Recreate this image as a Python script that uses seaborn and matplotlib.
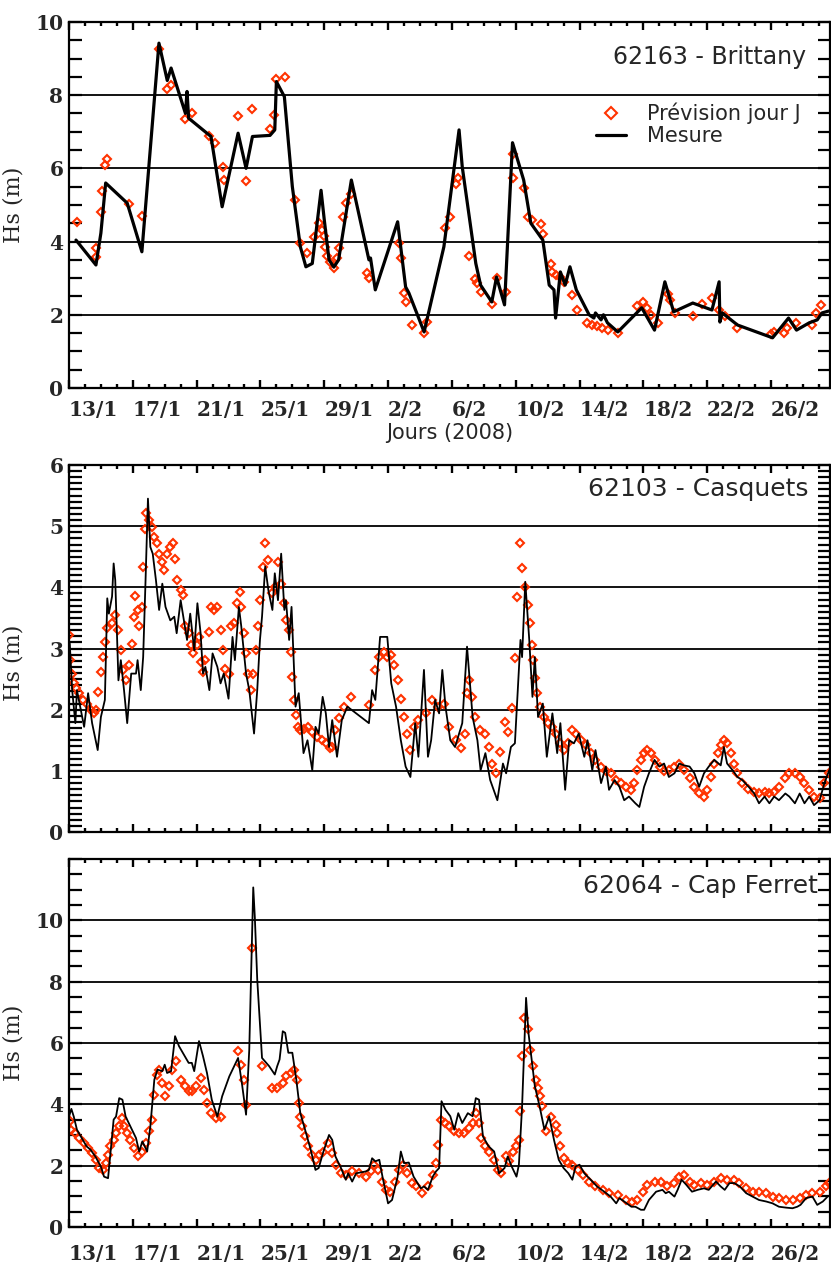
import matplotlib
matplotlib.use('Agg')
import matplotlib.pyplot as plt
from matplotlib.ticker import MultipleLocator
import seaborn as sns

# days counted from 13/1/2008 00h, Hs in metres
tick_days = [0, 4, 8, 12, 16, 20, 24, 28, 32, 36, 40, 44]
tick_labels = ['13/1', '17/1', '21/1', '25/1', '29/1', '2/2', '6/2', '10/2', '14/2', '18/2', '22/2', '26/2']

# 62163 - Brittany
brit_mes_day = [0.44, 1.69, 2.0, 2.3, 3.65, 4.57, 5.64, 6.16, 6.4, 7.3, 7.4, 7.5, 8.9, 9.6, 10.6, 11.1, 11.5, 12.6,
                12.9, 13.0, 13.5, 14.0, 14.5, 14.85, 15.25, 15.8, 16.0, 16.3, 16.6, 16.9, 17.7, 18.8, 18.9, 19.2,
                20.6, 21.1, 21.3, 22.26, 23.5, 24.45, 24.65, 25.5, 25.8, 26.5, 26.8, 27.3, 27.8, 28.5, 28.95, 29.7,
                30.1, 30.4, 30.5, 30.8, 31.1, 31.4, 31.8, 32.6, 32.9, 33.0, 33.35, 33.5, 33.75, 34.4, 35.9, 36.7,
                37.35, 37.9, 39.1, 40.3, 40.75, 40.8, 40.95, 41.9, 44.1, 45.1, 45.6, 46.4, 46.9, 47.2, 47.6]
brit_mes_hs = [4.04, 3.36, 4.23, 5.6, 5.05, 3.72, 9.42, 8.4, 8.74, 7.5, 8.1, 7.37, 6.87, 4.95, 6.96, 6.0, 6.87, 6.9,
               7.05, 8.37, 7.96, 5.5, 3.86, 3.31, 3.4, 5.4, 4.6, 3.5, 3.3, 3.5, 5.68, 3.5, 3.55, 2.68,
               4.54, 2.76, 2.6, 1.53, 3.86, 7.05, 6.04, 3.4, 2.81, 2.35, 3.03, 2.27, 6.7, 5.68, 4.5, 4.04,
               2.81, 2.68, 1.91, 3.17, 2.81, 3.31, 2.68, 2.0, 1.91, 2.05, 1.86, 2.0, 1.78, 1.53, 2.19, 1.58,
               2.9, 2.08, 2.32, 2.13, 2.9, 1.8, 2.05, 1.72, 1.37, 1.91, 1.58, 1.78, 1.86, 2.05, 2.1]
brit_prev_day = [0.5, 1.7, 1.7, 2.0, 2.05, 2.25, 2.4, 3.75, 4.55, 5.64, 6.16, 6.4, 7.27, 7.7, 8.78, 9.15, 9.65, 9.7,
                 10.6, 11.1, 11.5, 12.6, 12.85, 12.97, 13.55, 14.17, 14.5, 14.9, 15.36, 15.67, 15.86, 16.0, 16.05,
                 16.2, 16.36, 16.6, 16.8, 16.9, 17.2, 17.35, 17.66, 18.7, 18.8, 20.7, 20.8, 21.0, 21.1, 21.5,
                 22.26, 22.45, 23.6, 23.9, 24.26, 24.4, 25.08, 25.45, 25.6, 25.8, 26.5, 26.8, 27.4, 27.8, 27.8,
                 28.5, 28.8, 29.0, 29.6, 29.7, 30.2, 30.3, 30.5, 30.8, 31.0, 31.5, 31.85, 32.5, 32.8, 33.1, 33.4,
                 33.8, 34.4, 35.6, 36.0, 36.2, 36.5, 36.9, 37.55, 37.7, 38.0, 39.1, 39.7, 40.3, 40.75, 41.1, 41.9,
                 44.0, 44.2, 44.8, 45.0, 45.6, 46.6, 46.8, 47.15]
brit_prev_hs = [4.54, 3.58, 3.82, 4.8, 5.38, 6.09, 6.25, 5.03, 4.7, 9.26, 8.17, 8.28, 7.35, 7.5, 6.87, 6.69, 6.04, 5.68,
                7.43, 5.66, 7.62, 7.08, 7.46, 8.44, 8.5, 5.14, 3.96, 3.69, 4.13, 4.5, 4.32, 4.15, 3.85,
                3.6, 3.44, 3.28, 3.55, 3.82, 4.67, 5.05, 5.3, 3.14, 3.0, 3.96, 3.55, 2.6, 2.35, 1.72,
                1.5, 1.8, 4.37, 4.67, 5.57, 5.74, 3.6, 2.98, 2.87, 2.62, 2.3, 3.0, 2.62, 5.74, 6.39,
                5.46, 4.67, 4.59, 4.48, 4.2, 3.39, 3.17, 3.09, 3.03, 2.9, 2.54, 2.13, 1.78, 1.72, 1.69, 1.64,
                1.58, 1.5, 2.24, 2.35, 2.19, 2.0, 1.78, 2.57, 2.4, 2.05, 1.97, 2.3, 2.46, 2.13, 1.97, 1.64,
                1.48, 1.53, 1.5, 1.64, 1.78, 1.72, 2.05, 2.27]

# 62103 - Casquets
casq_mes_day = [0.0, 0.05, 0.2, 0.4, 0.5, 0.7, 0.95, 1.2, 1.45, 1.8, 2.0, 2.25, 2.4, 2.5, 2.7, 2.8, 2.9, 3.1, 3.25,
                3.45, 3.65, 3.9, 4.2, 4.3, 4.5, 4.65, 4.8, 4.95, 5.1, 5.25, 5.45, 5.65, 5.85, 6.05, 6.35, 6.6, 6.75,
                7.0, 7.2, 7.4, 7.6, 7.85, 8.05, 8.25, 8.4, 8.55, 8.8, 9.0, 9.3, 9.5, 9.7, 10.0, 10.25, 10.4, 10.65,
                10.8, 11.1, 11.3, 11.6, 11.8, 11.97, 12.1, 12.3, 12.5, 12.75, 12.9, 13.1, 13.3, 13.5, 13.6, 13.8,
                13.95, 14.2, 14.4, 14.7, 14.95, 15.25, 15.45, 15.65, 15.9, 16.1, 16.3, 16.5, 16.8, 17.1, 17.45,
                18.8, 19.0, 19.2, 19.5, 19.95, 20.2, 20.5, 20.8, 21.1, 21.4, 21.7, 21.9, 22.25, 22.5, 22.7, 22.95,
                23.2, 23.4, 23.6, 23.9, 24.2, 24.65, 24.95, 25.3, 25.6, 25.8, 26.1, 26.4, 26.85, 27.2, 27.4, 27.7,
                27.95, 28.3, 28.4, 28.6, 28.85, 29.05, 29.2, 29.4, 29.7, 29.95, 30.3, 30.6, 30.8, 31.1, 31.35,
                31.65, 31.95, 32.3, 32.5, 32.8, 33.0, 33.35, 33.65, 33.85, 34.2, 34.5, 34.8, 35.1, 35.5, 35.75,
                36.05, 36.35, 36.7, 37.0, 37.3, 37.6, 37.95, 38.25, 38.55, 38.9, 39.2, 39.5, 39.8, 40.1, 40.45,
                40.85, 41.05, 41.25, 41.6, 41.9, 42.2, 42.6, 42.95, 43.25, 43.6, 43.9, 44.2, 44.5, 44.9, 45.15,
                45.5, 45.8, 46.1, 46.4, 46.7, 47.05, 47.35, 47.65]
casq_mes_hs = [2.59, 3.08, 2.32, 1.78, 2.32, 2.05, 1.72, 2.27, 1.78, 1.34, 1.88, 2.16, 3.82, 3.57, 3.85, 4.39, 4.12, 2.48, 2.81,
               2.32, 1.78, 2.59, 2.59, 2.81, 2.32, 2.86, 4.12, 5.45, 4.66, 4.55, 4.12, 3.63, 4.06, 3.68, 3.46, 3.52, 3.25,
               3.79, 3.46, 3.14, 3.57, 2.97, 3.74, 3.25, 2.59, 2.7, 2.32, 2.92, 2.7, 2.43, 2.59, 2.18, 3.19, 2.81, 3.68,
               3.36, 2.59, 2.32, 1.61, 2.32, 3.14, 3.52, 4.34, 3.95, 3.63, 4.23, 3.79, 4.55, 3.63, 3.79, 3.14,
               3.68, 2.05, 2.27, 1.29, 1.5, 1.01, 1.72, 1.61, 2.21, 1.94, 1.39, 1.83, 1.23, 1.83, 2.05,
               1.78, 2.32, 2.16, 3.19, 3.19, 2.43, 2.05, 1.5, 1.07, 0.9, 1.78, 1.23, 2.65, 1.23, 1.5, 2.16,
               1.94, 2.65, 2.05, 1.5, 1.39, 1.78, 3.03, 1.88, 1.5, 1.01, 1.29, 0.85, 0.52, 1.12, 0.96, 1.39,
               1.45, 3.14, 2.86, 4.09, 3.14, 2.21, 2.86, 1.88, 2.1, 1.23, 1.94, 1.29, 1.78, 0.69, 1.5,
               1.45, 1.61, 1.23, 1.5, 1.01, 1.34, 0.8, 1.07, 0.69, 0.85, 0.74, 0.52, 0.58, 0.47, 0.41,
               0.74, 0.96, 1.18, 1.07, 1.12, 0.9, 0.96, 1.12, 1.09, 1.07, 0.96, 0.74, 0.96, 1.07, 1.18,
               1.09, 1.39, 1.12, 1.01, 0.9, 0.85, 0.74, 0.63, 0.47, 0.58, 0.47, 0.58, 0.52, 0.63, 0.58,
               0.47, 0.63, 0.47, 0.58, 0.44, 0.52, 0.8, 1.01]
casq_prev_day = [0.0, 0.05, 0.2, 0.3, 0.45, 0.6, 0.85, 1.1, 1.35, 1.55, 1.7, 1.85, 2.0, 2.15, 2.25, 2.4, 2.7, 2.9, 3.1,
                 3.25, 3.4, 3.6, 3.75, 3.95, 4.1, 4.15, 4.3, 4.4, 4.55, 4.65, 4.75, 4.85, 5.0, 5.2, 5.35, 5.5, 5.65,
                 5.8, 5.95, 6.15, 6.35, 6.5, 6.65, 6.8, 7.0, 7.15, 7.3, 7.5, 7.65, 7.8, 8.0, 8.15, 8.25, 8.4, 8.55,
                 8.75, 8.9, 9.1, 9.3, 9.5, 9.65, 9.8, 10.0, 10.15, 10.35, 10.55, 10.7, 10.8, 10.95, 11.1, 11.25,
                 11.4, 11.55, 11.7, 11.85, 12.0, 12.15, 12.3, 12.5, 12.7, 12.9, 13.1, 13.3, 13.5, 13.6, 13.8, 13.9,
                 14.0, 14.1, 14.2, 14.35, 14.5, 14.7, 15.0, 15.25, 15.55, 15.85, 16.1, 16.35, 16.5, 16.7, 16.9,
                 17.25, 17.65, 18.8, 19.2, 19.45, 19.75, 19.95, 20.2, 20.4, 20.6, 20.8, 21.0, 21.2, 21.4, 21.6,
                 21.9, 22.35, 22.75, 23.15, 23.5, 23.85, 24.25, 24.55, 24.8, 24.95, 25.1, 25.25, 25.45, 25.75,
                 26.05, 26.3, 26.5, 26.75, 27.0, 27.3, 27.5, 27.75, 27.95, 28.1, 28.3, 28.4, 28.6, 28.75, 28.9,
                 29.0, 29.1, 29.2, 29.35, 29.5, 29.8, 30.05, 30.3, 30.5, 30.75, 31.0, 31.25, 31.55, 31.8, 32.1,
                 32.4, 32.7, 33.0, 33.35, 33.65, 33.95, 34.3, 34.6, 34.9, 35.2, 35.4, 35.6, 35.85, 36.05, 36.25,
                 36.45, 36.75, 37.05, 37.3, 37.6, 37.95, 38.25, 38.55, 38.9, 39.2, 39.5, 39.8, 40.0, 40.25, 40.45,
                 40.65, 40.85, 41.05, 41.25, 41.5, 41.7, 41.9, 42.2, 42.55, 42.95, 43.25, 43.6, 43.9, 44.2, 44.5,
                 44.9, 45.15, 45.5, 45.8, 46.1, 46.4, 46.7, 47.05, 47.35, 47.65]
casq_prev_hs = [3.22, 2.81, 2.59, 2.43, 2.35, 2.27, 2.16, 2.1, 1.99, 1.94, 1.99, 2.29, 2.62, 2.86, 3.11, 3.33, 3.41, 3.55, 3.3,
                2.97, 2.65, 2.48, 2.73, 3.08, 3.52, 3.86, 3.63, 3.36, 3.68, 4.34, 4.96, 5.21, 5.1, 4.99, 4.83, 4.72, 4.55,
                4.42, 4.28, 4.55, 4.66, 4.72, 4.47, 4.12, 3.95, 3.87, 3.36, 3.25, 3.06, 2.92, 3.06, 3.19, 2.78, 2.62, 2.81,
                3.27, 3.68, 3.63, 3.68, 3.3, 2.97, 2.67, 2.59, 3.36, 3.41, 3.74, 3.93, 3.68, 3.25, 2.92, 2.59,
                2.32, 2.59, 2.97, 3.36, 3.79, 4.34, 4.72, 4.44, 3.9, 4.01, 4.42, 4.06, 3.74, 3.46, 3.3, 2.95,
                2.54, 2.16, 1.91, 1.72, 1.67, 1.69, 1.72, 1.64, 1.56, 1.5, 1.45, 1.37, 1.39, 1.67, 1.86,
                2.05, 2.21, 2.08, 2.65, 2.86, 2.95, 2.86, 2.89, 2.73, 2.48, 2.18, 1.88, 1.61, 1.34, 1.72,
                1.83, 1.94, 2.16, 2.05, 2.1, 1.72, 1.5, 1.37, 1.61, 2.27, 2.48, 2.21, 1.88, 1.67,
                1.61, 1.39, 1.12, 0.96, 1.31, 1.8, 1.64, 2.02, 2.84, 3.85, 4.72, 4.31, 4.01, 3.71, 3.41,
                3.06, 2.81, 2.51, 2.27, 2.05, 1.88, 1.78, 1.72, 1.61, 1.45, 1.34, 1.45, 1.67, 1.61, 1.5,
                1.42, 1.29, 1.18, 1.07, 0.99, 0.96, 0.85, 0.8, 0.74, 0.69, 0.8, 1.01, 1.18, 1.29, 1.34,
                1.29, 1.18, 1.07, 0.99, 1.01, 1.07, 1.12, 1.01, 0.88, 0.74, 0.63, 0.58, 0.69, 0.9, 1.12,
                1.29, 1.42, 1.5, 1.45, 1.29, 1.12, 0.96, 0.8, 0.71, 0.66, 0.63, 0.66, 0.63, 0.66, 0.74,
                0.88, 0.96, 0.96, 0.9, 0.8, 0.69, 0.58, 0.55, 0.8, 0.96]

# 62064 - Cap Ferret
capf_mes_day = [0.0, 0.15, 0.3, 0.5, 0.8, 1.1, 1.35, 1.65, 2.0, 2.2, 2.45, 2.8, 2.95, 3.15, 3.35, 3.55, 3.85, 4.2, 4.4,
                4.6, 4.9, 5.1, 5.35, 5.55, 5.85, 6.0, 6.15, 6.4, 6.65, 6.9, 7.2, 7.5, 7.7, 7.85, 8.15, 8.4, 8.65,
                8.95, 9.3, 9.6, 10.05, 10.6, 10.85, 11.1, 11.3, 11.55, 11.65, 11.8, 12.1, 12.55, 12.9, 13.05, 13.2,
                13.4, 13.55, 13.75, 14.0, 14.25, 14.5, 14.8, 15.15, 15.45, 15.65, 15.95, 16.3, 16.5, 16.7, 17.05,
                17.35, 17.5, 17.75, 18.0, 18.6, 18.8, 19.0, 19.2, 19.45, 19.65, 20.0, 20.25, 20.6, 20.8, 21.0,
                21.3, 21.6, 22.05, 22.25, 22.5, 22.8, 23.0, 23.2, 23.35, 23.6, 23.9, 24.15, 24.4, 24.65, 25.0,
                25.3, 25.5, 25.7, 25.95, 26.3, 26.65, 26.95, 27.3, 27.5, 27.75, 28.05, 28.2, 28.4, 28.55, 28.65,
                28.8, 29.0, 29.2, 29.5, 29.8, 30.1, 30.4, 30.7, 31.0, 31.3, 31.55, 31.75, 32.0, 32.3, 32.7, 33.1,
                33.55, 33.95, 34.3, 34.5, 34.8, 35.25, 35.5, 35.85, 36.05, 36.35, 36.8, 37.2, 37.4, 37.6, 37.95,
                38.15, 38.4, 38.7, 39.05, 39.4, 39.8, 40.1, 40.55, 40.85, 41.1, 41.4, 41.7, 42.05, 42.45, 42.85,
                43.25, 43.7, 44.1, 44.5, 44.95, 45.35, 45.65, 45.85, 46.2, 46.6, 46.9, 47.25, 47.55]
capf_mes_hs = [3.6, 3.85, 3.6, 3.17, 2.9, 2.63, 2.52, 2.3, 1.97, 1.64, 1.59, 3.5, 3.6, 4.2, 4.15, 3.6, 3.28, 2.9, 2.46,
               2.79, 2.46, 3.28, 4.8, 5.13, 5.08, 5.29, 5.02, 5.08, 6.22, 5.89, 5.62, 5.35, 5.35, 5.08, 6.06, 5.57, 5.02,
               4.15, 3.6, 4.26, 4.91, 5.51, 4.64, 3.66, 5.78, 11.07, 10.09, 8.07, 5.51, 5.24, 4.97, 5.24, 5.46,
               6.38, 6.33, 5.68, 5.68, 4.8, 3.71, 3.17, 2.52, 1.86, 1.92, 2.46, 3.0, 2.84, 2.3, 1.92,
               1.54, 1.75, 1.48, 1.75, 1.81, 1.86, 2.24, 2.14, 2.19, 1.64, 0.77, 0.88, 1.64, 2.46, 2.08,
               2.1, 1.64, 1.26, 1.32, 1.21, 1.64, 1.81, 1.92, 4.1, 3.82, 3.61, 3.17, 3.71, 3.39, 3.71,
               3.61, 4.2, 4.15, 2.95, 2.63, 2.46, 1.75, 1.92, 2.3, 1.97, 1.64, 2.03, 3.93, 6.0, 7.47,
               6.33, 5.46, 4.59, 3.93, 3.17, 3.6, 2.84, 2.19, 1.92, 1.75, 1.54, 1.97, 2.03, 1.75, 1.54, 1.32,
               1.15, 0.99, 0.77, 0.94, 0.83, 0.66, 0.66, 0.56, 0.56, 0.88, 1.15, 1.21, 1.1, 1.15, 0.99,
               1.21, 1.54, 1.37, 1.15, 1.21, 1.26, 1.21, 1.48, 1.32, 1.21, 1.43, 1.43, 1.32, 1.1, 0.99,
               0.88, 0.83, 0.77, 0.66, 0.63, 0.61, 0.66, 0.72, 0.94, 0.99, 0.72, 0.83, 0.99]
capf_prev_day = [0.05, 0.15, 0.4, 0.65, 0.95, 1.2, 1.45, 1.7, 1.9, 2.15, 2.3, 2.45, 2.6, 2.8, 2.95, 3.15, 3.3, 3.45, 3.65,
                 3.85, 4.1, 4.35, 4.55, 4.8, 5.0, 5.2, 5.35, 5.5, 5.65, 5.85, 6.05, 6.25, 6.45, 6.7, 7.0, 7.25, 7.5,
                 7.7, 7.95, 8.25, 8.45, 8.65, 8.9, 9.2, 9.5, 10.6, 10.8, 10.95, 11.1, 11.5, 12.1, 12.75, 13.05,
                 13.4, 13.6, 13.9, 14.1, 14.3, 14.4, 14.5, 14.6, 14.8, 15.0, 15.25, 15.5, 15.7, 15.95, 16.25, 16.5,
                 16.75, 17.05, 17.35, 17.75, 18.2, 18.6, 18.9, 19.1, 19.35, 19.6, 19.85, 20.15, 20.45, 20.7, 20.95,
                 21.2, 21.5, 21.75, 22.15, 22.5, 22.8, 23.0, 23.1, 23.3, 23.55, 23.8, 24.15, 24.45, 24.75, 25.05,
                 25.3, 25.5, 25.7, 25.8, 26.05, 26.35, 26.65, 26.9, 27.1, 27.4, 27.6, 27.8, 28.0, 28.2, 28.3, 28.4,
                 28.55, 28.75, 28.9, 29.1, 29.25, 29.4, 29.5, 29.65, 29.9, 30.2, 30.5, 30.6, 30.75, 31.0, 31.25,
                 31.55, 31.9, 32.2, 32.6, 33.0, 33.45, 33.85, 34.4, 34.9, 35.3, 35.6, 35.95, 36.25, 36.7, 37.1,
                 37.5, 37.95, 38.25, 38.55, 38.9, 39.2, 39.6, 40.0, 40.45, 40.85, 41.25, 41.7, 42.0, 42.45, 42.85,
                 43.25, 43.7, 44.1, 44.5, 44.95, 45.35, 45.8, 46.2, 46.6, 47.05, 47.45, 47.65]
capf_prev_hs = [3.44, 3.17, 3.06, 2.9, 2.73, 2.57, 2.41, 2.19, 1.92, 1.86, 2.08, 2.35, 2.63, 2.84, 3.06, 3.28, 3.55, 3.28, 3.06,
                2.84, 2.57, 2.3, 2.46, 2.73, 3.12, 3.5, 4.31, 4.97, 5.13, 4.7, 4.26, 4.59, 5.13, 5.4, 4.8, 4.59, 4.42,
                4.42, 4.59, 4.86, 4.48, 4.04, 3.71, 3.55, 3.6, 5.73, 5.29, 4.8, 3.99, 9.11, 5.24, 4.53, 4.53,
                4.7, 4.91, 5.02, 5.13, 4.8, 4.04, 3.6, 3.28, 2.95, 2.63, 2.35, 2.19, 2.35, 2.46, 2.73, 2.41,
                2.03, 1.75, 1.7, 1.81, 1.75, 1.64, 1.81, 2.03, 1.86, 1.48, 1.21, 1.15, 1.48, 1.86, 2.03,
                1.75, 1.43, 1.32, 1.1, 1.32, 1.7, 2.08, 2.68, 3.5, 3.39, 3.28, 3.12, 3.06, 3.06, 3.22,
                3.39, 3.71, 3.39, 2.9, 2.63, 2.46, 2.19, 1.86, 1.75, 2.3, 2.14, 2.46, 2.63, 2.84, 3.77, 5.57,
                6.82, 6.44, 5.78, 5.24, 4.8, 4.53, 4.26, 3.93, 3.12, 3.6, 3.33, 3.06, 2.63, 2.24, 2.08,
                2.03, 1.86, 1.7, 1.48, 1.32, 1.21, 1.1, 1.05, 0.88, 0.83, 0.88, 1.15, 1.37, 1.48, 1.48,
                1.32, 1.43, 1.64, 1.7, 1.48, 1.37, 1.43, 1.37, 1.48, 1.59, 1.54, 1.54, 1.43, 1.26, 1.15,
                1.15, 1.1, 0.99, 0.94, 0.88, 0.88, 0.94, 1.05, 1.1, 1.15, 1.32, 1.43]

sns.set_style('ticks')
plt.rcParams['font.family'] = ['DejaVu Serif']

RED = '#ff3300'
fig = plt.figure(figsize=(8.31, 12.67), dpi=100)

# left, bottom, width, height in figure fraction (pixel positions measured on the reference)
rects = [[0.0830, 0.6938, 0.9158, 0.2889],
         [0.0830, 0.3433, 0.9158, 0.2897],
         [0.0830, 0.0316, 0.9158, 0.2905]]

panels = [
    dict(name='62163 - Brittany', mday=brit_mes_day, mhs=brit_mes_hs, pday=brit_prev_day, phs=brit_prev_hs,
         ymax=10, major=2, minor=0.5, lw=2.3, title_xy=(0.968, 0.884), title_size=17, xlabels=True),
    dict(name='62103 - Casquets', mday=casq_mes_day, mhs=casq_mes_hs, pday=casq_prev_day, phs=casq_prev_hs,
         ymax=6, major=1, minor=0.1, lw=1.3, title_xy=(0.972, 0.916), title_size=18, xlabels=False),
    dict(name='62064 - Cap Ferret', mday=capf_mes_day, mhs=capf_mes_hs, pday=capf_prev_day, phs=capf_prev_hs,
         ymax=12, major=2, minor=0.5, lw=1.3, title_xy=(0.984, 0.908), title_size=18, xlabels=True),
]

for i, p in enumerate(panels):
    ax = fig.add_axes(rects[i])
    yt = list(range(0, 11 if p['ymax'] == 12 else p['ymax'] + 1, p['major']))
    for v in yt[1:]:
        ax.axhline(v, color='black', linewidth=1.3, zorder=1)

    # forecast diamonds then measured line
    sns.lineplot(x=p['pday'], y=p['phs'], ax=ax, estimator=None, sort=False, linestyle='none',
                 marker='D', markersize=4.5, markerfacecolor='none', markeredgecolor=RED,
                 markeredgewidth=1.5, color=RED, label='Prévision jour J', legend=False, zorder=2)
    sns.lineplot(x=p['mday'], y=p['mhs'], ax=ax, estimator=None, sort=False, color='black',
                 linewidth=p['lw'], label='Mesure', legend=False, zorder=3)

    ax.set_xlim(0, 47.7)
    ax.set_ylim(0, p['ymax'])
    ax.set_xticks(tick_days)
    ax.set_xticklabels(tick_labels, ha='left', fontweight='bold', fontsize=14.5)
    ax.xaxis.set_minor_locator(MultipleLocator(1))
    ax.set_yticks(yt)
    ax.set_yticklabels([str(v) for v in yt], fontweight='bold', fontsize=14.5)
    ax.yaxis.set_minor_locator(MultipleLocator(p['minor']))

    ax.tick_params(axis='both', which='both', direction='in', top=True, right=True, color='black')
    ax.tick_params(axis='x', which='major', length=6, width=1.7, pad=9 if i == 0 else 12,
                   labelbottom=p['xlabels'])
    ax.tick_params(axis='x', which='minor', length=3, width=1.7)
    ax.tick_params(axis='y', which='both', length=9, width=1.6, pad=4)
    for s in ax.spines.values():
        s.set_linewidth(1.6)
        s.set_color('black')

    ax.set_ylabel('Hs (m)', fontsize=16)
    ax.yaxis.set_label_coords(-0.058, 0.46 if i == 1 else 0.5)
    ax.set_xlabel('')
    ax.text(p['title_xy'][0], p['title_xy'][1], p['name'], transform=ax.transAxes, ha='right', va='baseline',
            fontsize=p['title_size'], family='DejaVu Sans')

    if i == 0:
        ax.set_xlabel('Jours (2008)', fontsize=15, family='DejaVu Sans', labelpad=2)
        ax.legend(handles=ax.lines[-2:], labels=['Prévision jour J', 'Mesure'], loc='upper left',
                  bbox_to_anchor=(0.692, 0.779), frameon=False, borderpad=0, borderaxespad=0,
                  handlelength=1.45, handletextpad=1.0, labelspacing=0.1, markerscale=1.4,
                  prop={'family': 'DejaVu Sans', 'size': 15})

fig.savefig('out.png', dpi=100)
